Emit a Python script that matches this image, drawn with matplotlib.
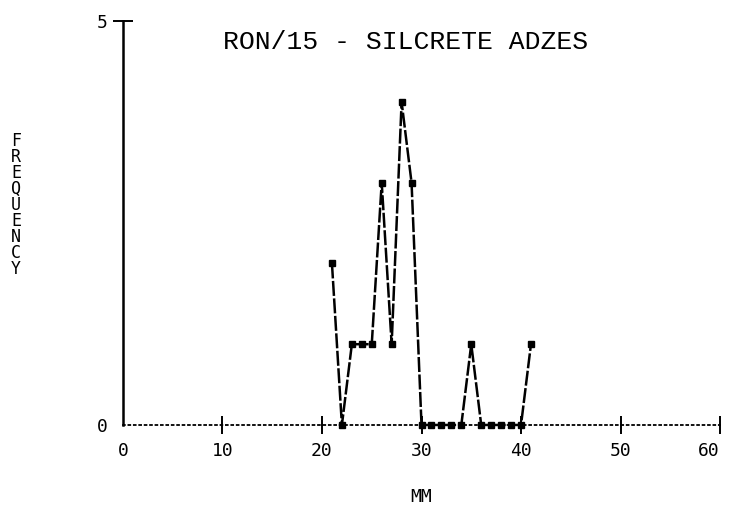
import matplotlib.pyplot as plt

# ---- DATA ----
mm = [21, 22, 23, 24, 25, 26, 27, 28, 29, 30, 31, 32, 33, 34, 35, 36, 37, 38, 39, 40, 41]
freq = [2, 0, 1, 1, 1, 3, 1, 4, 3, 0, 0, 0, 0, 0, 1, 0, 0, 0, 0, 0, 1]
x_ticks = [0, 10, 20, 30, 40, 50, 60]
y_ticks = [0, 5]

# ---- FIGURE ----
fig = plt.figure(figsize=(7.29, 5.17), dpi=100)
ax = fig.add_axes([0.1687, 0.178, 0.819, 0.781])

ax.plot(mm, freq, color="black", lw=1.8, linestyle=(0, (6, 1)),
        marker="s", ms=5, mfc="black", mec="black", clip_on=False, zorder=3)

ax.set_xlim(0, 60)
ax.set_ylim(0, 5)

ax.spines["top"].set_visible(False)
ax.spines["right"].set_visible(False)
ax.spines["left"].set_linewidth(1.8)
ax.spines["bottom"].set_linewidth(1.3)
ax.spines["bottom"].set_linestyle((0, (1, 2)))

ax.set_xticks(x_ticks)
ax.set_xticklabels([str(v) for v in x_ticks], family="DejaVu Sans Mono", fontsize=13)
ax.set_yticks(y_ticks)
ax.set_yticklabels([str(v) for v in y_ticks], family="DejaVu Sans Mono", fontsize=13)
ax.tick_params(axis="x", direction="inout", length=13, width=1.4, pad=6)
ax.tick_params(axis="y", direction="inout", length=14, width=1.4, pad=4)
# no tick mark at origin
ax.xaxis.get_major_ticks()[0].tick1line.set_visible(False)
ax.yaxis.get_major_ticks()[0].tick1line.set_visible(False)
# last x label sits left of its tick, inside the page
ax.get_xticklabels()[-1].set_horizontalalignment("right")

ax.set_xlabel("MM", family="DejaVu Sans Mono", fontsize=13, labelpad=20)

fig.text(0.557, 0.919, "RON/15 - SILCRETE ADZES", family="Liberation Mono",
         fontsize=19, ha="center", va="center")
fig.text(0.022, 0.603, "\n".join("FREQUENCY"), family="DejaVu Sans Mono",
         fontsize=12, ha="center", va="center", linespacing=0.86)

fig.savefig("out.png", dpi=100)
